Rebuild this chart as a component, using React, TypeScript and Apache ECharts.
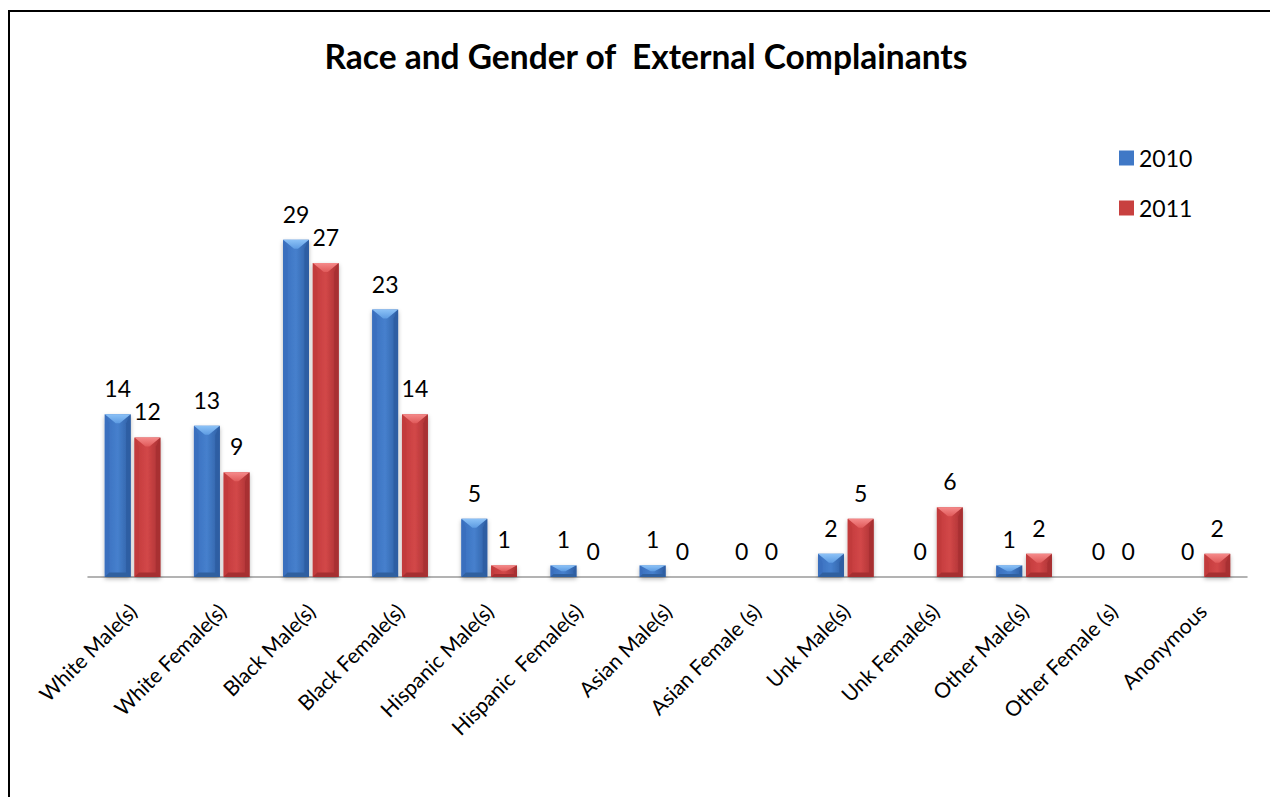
import React, { useEffect, useRef } from "react";
import * as echarts from "echarts";

const categories = [
  "White Male(s)",
  "White Female(s)",
  "Black Male(s)",
  "Black Female(s)",
  "Hispanic Male(s)",
  "Hispanic  Female(s)",
  "Asian Male(s)",
  "Asian Female (s)",
  "Unk Male(s)",
  "Unk Female(s)",
  "Other Male(s)",
  "Other Female (s)",
  "Anonymous",
];
const values2010 = [14, 13, 29, 23, 5, 1, 1, 0, 2, 0, 1, 0, 0];
const values2011 = [12, 9, 27, 14, 1, 0, 0, 0, 5, 6, 2, 0, 2];
const seriesNames = ["2010", "2011"];

const FONT = "Lato";

type Palette = {
  top: string;
  topDeep: string;
  left: string;
  center: string;
  right: string;
  bottom: string;
  legend: string;
};

const blue: Palette = {
  top: "#8cc2f7",
  topDeep: "#5d9be2",
  left: "#3a6fbe",
  center: "#4680cd",
  right: "#2e5ea3",
  bottom: "#30609f",
  legend: "#3f78c6",
};
const red: Palette = {
  top: "#f58a8a",
  topDeep: "#e05a5a",
  left: "#c23b3c",
  center: "#d24748",
  right: "#a83032",
  bottom: "#a52f31",
  legend: "#c8403f",
};

// Bevelled bar with a value label above it; side 0 = left bar of the pair, 1 = right
function bevelBar(side: number, pal: Palette) {
  return (params: any, api: any) => {
    const cat = api.value(0);
    const v = api.value(1);
    const top = api.coord([cat, v]);
    const base = api.coord([cat, 0]);
    const band = api.size([1, 0])[0];
    const w = band * 0.29;
    const gap = w * 0.15;
    const cx = top[0];
    const x = side === 0 ? cx - gap / 2 - w : cx + gap / 2;
    const yTop = top[1];
    const yBase = base[1];
    const h = yBase - yTop;
    const children: any[] = [];
    if (h > 0.5) {
      const d = Math.min(w / 2, h / 2, 9);
      children.push({
        type: "rect",
        shape: { x, y: yTop, width: w, height: h },
        style: {
          fill: new echarts.graphic.LinearGradient(0, 0, 1, 0, [
            { offset: 0, color: pal.left },
            { offset: 0.5, color: pal.center },
            { offset: 1, color: pal.right },
          ]),
          shadowBlur: 4,
          shadowOffsetY: 2,
          shadowColor: "rgba(0,0,0,0.3)",
        },
      });
      children.push({
        type: "polygon",
        shape: {
          points: [
            [x, yTop],
            [x + d * 0.5, yTop + d],
            [x + d * 0.5, yBase - d * 0.5],
            [x, yBase],
          ],
        },
        style: { fill: pal.left },
      });
      children.push({
        type: "polygon",
        shape: {
          points: [
            [x + w, yTop],
            [x + w - d * 0.5, yTop + d],
            [x + w - d * 0.5, yBase - d * 0.5],
            [x + w, yBase],
          ],
        },
        style: { fill: pal.right },
      });
      children.push({
        type: "polygon",
        shape: {
          points: [
            [x, yBase],
            [x + w, yBase],
            [x + w - d * 0.5, yBase - d * 0.5],
            [x + d * 0.5, yBase - d * 0.5],
          ],
        },
        style: { fill: pal.bottom },
      });
      children.push({
        type: "polygon",
        shape: {
          points: [
            [x, yTop],
            [x + w, yTop],
            [x + w / 2 + 2, yTop + d],
            [x + w / 2 - 2, yTop + d],
          ],
        },
        style: {
          fill: new echarts.graphic.LinearGradient(0, 0, 0, 1, [
            { offset: 0, color: pal.top },
            { offset: 1, color: pal.topDeep },
          ]),
        },
      });
    }
    children.push({
      type: "text",
      x: x + w / 2,
      y: yTop - 26,
      style: {
        text: String(v),
        align: "center",
        verticalAlign: "middle",
        fontSize: 23,
        fontFamily: FONT,
        fill: "#000",
      },
    });
    return { type: "group", children };
  };
}

export default function App() {
  const ref = useRef<HTMLDivElement>(null);

  useEffect(() => {
    if (!ref.current) return;
    const chart = echarts.init(ref.current, undefined, { renderer: "svg" });
    chart.setOption({
      animation: false,
      backgroundColor: "#fff",
      title: {
        text: "Race and Gender of  External Complainants",
        left: 641,
        top: 34,
        textAlign: "center",
        textStyle: {
          fontFamily: FONT,
          fontSize: 33.5,
          fontWeight: "bold",
          color: "#000",
        },
      },
      legend: {
        orient: "vertical",
        left: 1114,
        top: 141,
        itemWidth: 15,
        itemHeight: 15,
        itemGap: 26,
        icon: "rect",
        textStyle: {
          fontFamily: FONT,
          fontSize: 23,
          color: "#000",
          lineHeight: 24,
        },
        data: [
          { name: seriesNames[0], itemStyle: { color: blue.legend } },
          { name: seriesNames[1], itemStyle: { color: red.legend } },
        ],
      },
      grid: { left: 88, right: 23, top: 170, bottom: 220, containLabel: false },
      xAxis: {
        type: "category",
        data: categories,
        axisTick: { show: false },
        axisLine: { lineStyle: { color: "#9a9a9a", width: 1.5 } },
        axisLabel: {
          interval: 0,
          rotate: 45,
          margin: 30,
          fontFamily: FONT,
          fontSize: 21,
          color: "#000",
        },
      },
      yAxis: {
        type: "value",
        min: 0,
        max: 35,
        show: false,
        splitLine: { show: false },
      },
      series: [
        {
          name: seriesNames[0],
          type: "custom",
          renderItem: bevelBar(0, blue),
          itemStyle: { color: blue.legend },
          encode: { x: 0, y: 1 },
          data: values2010.map((v, i) => [i, v]),
        },
        {
          name: seriesNames[1],
          type: "custom",
          renderItem: bevelBar(1, red),
          itemStyle: { color: red.legend },
          encode: { x: 0, y: 1 },
          data: values2011.map((v, i) => [i, v]),
        },
      ],
    });
    return () => chart.dispose();
  }, []);

  return (
    <div
      style={{
        position: "fixed",
        left: 0,
        top: 0,
        width: 1270,
        height: 797,
        overflow: "hidden",
        background: "#fff",
      }}
    >
      <div
        ref={ref}
        style={{ position: "absolute", left: 0, top: 0, width: 1270, height: 797 }}
      />
      <div
        style={{
          position: "absolute",
          left: 8,
          top: 10,
          width: 1400,
          height: 900,
          borderTop: "2px solid #000",
          borderLeft: "2px solid #000",
          pointerEvents: "none",
        }}
      />
    </div>
  );
}
